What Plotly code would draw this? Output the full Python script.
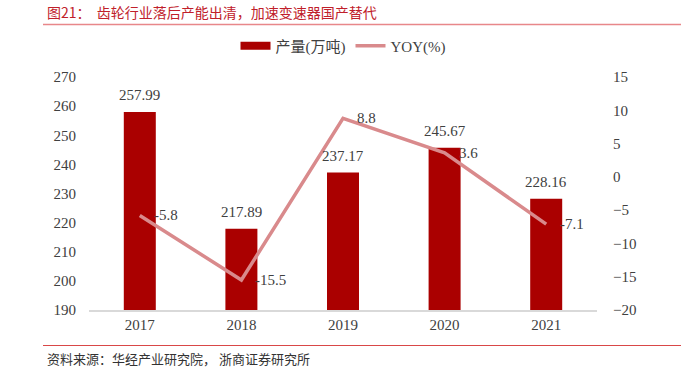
import plotly.graph_objects as go

years = ["2017", "2018", "2019", "2020", "2021"]
output = [257.99, 217.89, 237.17, 245.67, 228.16]
yoy = [-5.8, -15.5, 8.8, 3.6, -7.1]
left_ticks = [190, 200, 210, 220, 230, 240, 250, 260, 270]
right_ticks = [-20, -15, -10, -5, 0, 5, 10, 15]

title_text = "图21：  齿轮行业落后产能出清，加速变速器国产替代"
source_text = "资料来源：华经产业研究院， 浙商证券研究所"

FONT = "Liberation Serif, Noto Sans CJK SC, serif"
BAR_C = "#AA0000"
LINE_C = "#D98A8C"
TXT_C = "#404040"

fig = go.Figure()
fig.add_trace(go.Bar(
    x=years, y=[v - 190 for v in output], base=190,
    name="产量(万吨)", showlegend=False,
    marker=dict(color=BAR_C, line=dict(width=0)),
    width=0.315,
))
fig.add_trace(go.Scatter(
    x=years, y=yoy, name="YOY(%)", yaxis="y2", showlegend=False,
    mode="lines",
    line=dict(color=LINE_C, width=3.5),
    cliponaxis=False,
))
# legend proxies (no visible data)
fig.add_trace(go.Scatter(x=[None], y=[None], mode="lines", name="产量(万吨)",
                         line=dict(color=BAR_C, width=8), hoverinfo="skip"))
fig.add_trace(go.Scatter(x=[None], y=[None], mode="lines", name="YOY(%)", yaxis="y2",
                         line=dict(color=LINE_C, width=3.5), hoverinfo="skip"))

for i, v in enumerate(output):
    fig.add_annotation(x=i, y=v, xref="x", yref="y", text=f"{v:.2f}",
                       showarrow=False, yanchor="middle", yshift=17,
                       font=dict(family=FONT, size=15, color=TXT_C))
for i, v in enumerate(yoy):
    fig.add_annotation(x=i, y=v, xref="x", yref="y2", text=str(v),
                       showarrow=False, xanchor="left", yanchor="middle", xshift=12,
                       font=dict(family=FONT, size=15, color=TXT_C))

fig.update_layout(
    width=689, height=371,
    margin=dict(l=89, r=92, t=77, b=61, autoexpand=False),
    paper_bgcolor="white", plot_bgcolor="white",
    font=dict(family=FONT, size=14, color=TXT_C),
    showlegend=True,
    legend=dict(orientation="h", x=0.5, xanchor="center", y=1 - 46 / 371, yanchor="middle",
                yref="container", font=dict(family=FONT, size=15, color=TXT_C),
                bgcolor="rgba(0,0,0,0)", traceorder="normal"),
    xaxis=dict(type="category", categoryorder="array", categoryarray=years,
               range=[-0.5, len(years) - 0.5],
               showgrid=False, showline=True, linecolor="#D9D9D9", linewidth=1.5,
               ticks="", tickfont=dict(family=FONT, size=15, color=TXT_C)),
    yaxis=dict(range=[190, 270], tickvals=left_ticks, showgrid=False, showline=False,
               zeroline=False, ticks="", ticklabelstandoff=12,
               tickfont=dict(family=FONT, size=15, color=TXT_C)),
    yaxis2=dict(range=[-20, 15], tickvals=right_ticks, overlaying="y", side="right",
                showgrid=False, showline=False, zeroline=False, ticks="",
                ticklabelstandoff=15,
                tickfont=dict(family=FONT, size=15, color=TXT_C)),
)

fig.add_annotation(text=title_text, xref="paper", yref="paper",
                   x=(45 - 89) / 508, y=1 + (77 - 12) / 233, xanchor="left", yanchor="middle",
                   showarrow=False, font=dict(family="Noto Sans CJK SC", size=14, color="#C0202A"))
fig.add_annotation(text=source_text, xref="paper", yref="paper",
                   x=(45 - 89) / 508, y=-(358 - 310) / 233, xanchor="left", yanchor="middle",
                   showarrow=False, font=dict(family="Noto Sans CJK SC", size=13, color="#333333"))

fig.add_shape(type="line", xref="paper", yref="paper",
              x0=(43 - 89) / 508, x1=(681 - 89) / 508,
              y0=1 + (77 - 24.5) / 233, y1=1 + (77 - 24.5) / 233,
              line=dict(color="#E8878A", width=1.5))
fig.add_shape(type="line", xref="paper", yref="paper",
              x0=(43 - 89) / 508, x1=(681 - 89) / 508,
              y0=-(345.5 - 310) / 233, y1=-(345.5 - 310) / 233,
              line=dict(color="#D94848", width=1.2))

fig.write_html("out.html", config={"displayModeBar": False},
               post_script="document.body.style.margin='0';")
